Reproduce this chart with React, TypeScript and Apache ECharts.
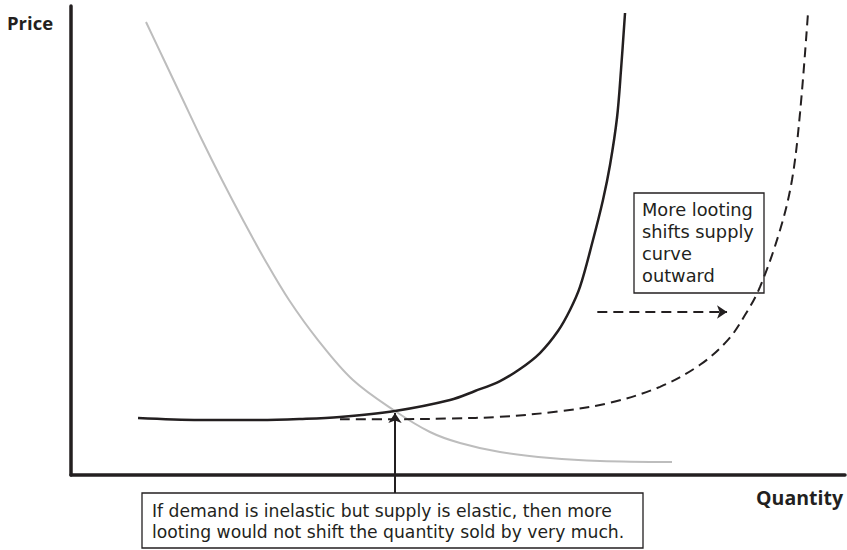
import React, { useEffect, useRef } from "react";
import * as echarts from "echarts";

// Quantity (0-100) / Price (0-100) in abstract units
const demandPoints: [number, number][] = [
  [9.69, 96.59], [12.02, 88.49], [14.47, 79.96], [16.93, 71.43], [19.51, 62.9],
  [22.22, 54.37], [25.06, 45.84], [28.17, 37.31], [31.91, 28.78], [36.43, 20.26],
  [41.86, 13.65], [46.38, 9.17], [50.26, 6.82], [55.43, 4.9], [61.89, 3.62],
  [68.35, 2.99], [77.65, 2.77],
];

const supplyPoints: [number, number][] = [
  [8.66, 12.15], [16.67, 11.73], [24.42, 11.73], [29.59, 11.94], [34.75, 12.37],
  [41.86, 13.65], [48.97, 15.99], [52.2, 17.91], [55.43, 20.04], [58.01, 22.6],
  [60.59, 26.01], [62.92, 30.7], [64.47, 35.18], [65.76, 40.09], [67.44, 50.11],
  [68.73, 58.64], [69.64, 66.1], [70.54, 76.12], [71.06, 86.35], [71.58, 98.51],
];

const shiftedSupplyPoints: [number, number][] = [
  [34.75, 11.9], [42.51, 11.9], [48.97, 12.05], [55.43, 12.4], [63.18, 13.6],
  [69.64, 15.4], [76.1, 18.8], [81.27, 23.5], [84.88, 28.8], [87.08, 34.1],
  [89.02, 40.1], [91.6, 52.2], [93.15, 62.9], [94.19, 77.2], [95.22, 98.5],
];

const shiftArrow: [number, number][] = [[68.0, 34.75], [84.76, 34.75]];
const calloutArrow: [number, number][] = [[41.86, -3.84], [41.86, 13.2]];

const axisLabels = { x: "Quantity", y: "Price" };
const shiftNote = ["More looting", "shifts supply", "curve", "outward"];
const bottomNote = [
  "If demand is inelastic but supply is elastic, then more",
  "looting would not shift the quantity sold by very much.",
];

const INK = "#231f20";
const LABEL_FONT = '"Open Sans", "Noto Sans", sans-serif';
const NOTE_FONT = '"DejaVu Sans", "Open Sans", sans-serif';

export default function App() {
  const ref = useRef<HTMLDivElement>(null);
  useEffect(() => {
    if (!ref.current) return;
    const chart = echarts.init(ref.current, null, { renderer: "svg" });
    const axisCommon = {
      type: "value",
      min: 0,
      max: 100,
      axisLine: { show: true, lineStyle: { color: INK, width: 3.5 } },
      axisTick: { show: false },
      axisLabel: { show: false },
      splitLine: { show: false },
    };
    const curve = {
      type: "line",
      smooth: 0.35,
      showSymbol: false,
      symbol: "none",
    };
    chart.setOption({
      animation: false,
      backgroundColor: "#ffffff",
      grid: { left: 71, right: 2, top: 6, bottom: 75, containLabel: false },
      xAxis: { ...axisCommon },
      yAxis: { ...axisCommon },
      series: [
        { ...curve, data: demandPoints, lineStyle: { color: "#bdbdbd", width: 2 }, z: 1 },
        { ...curve, data: shiftedSupplyPoints, lineStyle: { color: INK, width: 2, type: [10, 6] }, z: 2 },
        { ...curve, data: supplyPoints, lineStyle: { color: INK, width: 2.5 }, z: 3 },
        {
          type: "lines",
          coordinateSystem: "cartesian2d",
          data: [{ coords: shiftArrow }],
          symbol: ["none", "arrow"],
          symbolSize: 10,
          lineStyle: { color: INK, width: 2, type: [10, 6], opacity: 1 },
          z: 4,
        },
        {
          type: "lines",
          coordinateSystem: "cartesian2d",
          clip: false,
          data: [{ coords: calloutArrow }],
          symbol: ["none", "arrow"],
          symbolSize: 10,
          lineStyle: { color: INK, width: 2, opacity: 1 },
          z: 4,
        },
      ],
      graphic: [
        {
          type: "text",
          x: 7,
          y: 22,
          style: { text: axisLabels.y, font: `bold 18.5px ${LABEL_FONT}`, fill: INK, verticalAlign: "middle" },
        },
        {
          type: "text",
          x: 843,
          y: 497,
          style: { text: axisLabels.x, font: `bold 19.5px ${LABEL_FONT}`, fill: INK, align: "right", verticalAlign: "middle" },
        },
        {
          type: "rect",
          shape: { x: 634, y: 193, width: 130, height: 100 },
          style: { fill: "none", stroke: INK, lineWidth: 1.3 },
        },
        ...shiftNote.map((line, i) => ({
          type: "text",
          x: 642,
          y: 209 + i * 22.3,
          style: { text: line, font: `17.8px ${NOTE_FONT}`, fill: INK, verticalAlign: "middle" },
        })),
        {
          type: "rect",
          shape: { x: 142, y: 493, width: 501, height: 55 },
          style: { fill: "#ffffff", stroke: INK, lineWidth: 1.3 },
        },
        ...bottomNote.map((line, i) => ({
          type: "text",
          x: 152,
          y: 511 + i * 20.5,
          style: { text: line, font: `17.2px ${NOTE_FONT}`, fill: INK, verticalAlign: "middle" },
        })),
      ],
    });
    return () => chart.dispose();
  }, []);
  return <div ref={ref} style={{ position: "fixed", left: 0, top: 0, width: 847, height: 550 }} />;
}
